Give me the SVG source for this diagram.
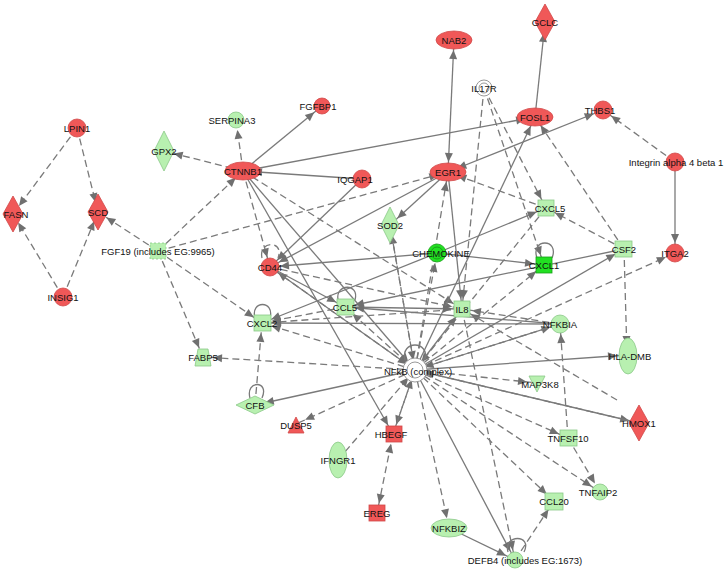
<svg xmlns="http://www.w3.org/2000/svg" width="724" height="572" viewBox="0 0 724 572">
<defs>
<marker id="a" markerUnits="userSpaceOnUse" markerWidth="30" markerHeight="10" viewBox="0 0 30 10" refX="19" refY="4" orient="auto-start-reverse" overflow="visible"><path d="M0,0 L9,4 L0,8 z" fill="#707070"/></marker>
<style>
.s{stroke:#7a7a7a;stroke-width:1.3;fill:none}
.d{stroke:#7a7a7a;stroke-width:1.3;fill:none;stroke-dasharray:7,4}
.r{fill:#f05858;stroke:#d04848;stroke-width:0.8}
.g{fill:#b8f0b0;stroke:#8ac888;stroke-width:0.8}
.G{fill:#22e022;stroke:#18a018;stroke-width:0.8}
.w{fill:#fff;stroke:#999;stroke-width:1}
text{font-family:"Liberation Sans",Arial,sans-serif;font-size:9.5px;fill:#111;text-anchor:middle;dominant-baseline:central}
</style>
</defs>
<rect width="724" height="572" fill="#fff"/>
<g id="connectors">
<g class="d" marker-end="url(#a)">
<line x1="77" y1="128" x2="13" y2="214"/><line x1="77" y1="128" x2="98" y2="212"/>
<line x1="63" y1="297" x2="13" y2="214"/><line x1="63" y1="297" x2="98" y2="212"/>
<line x1="158" y1="251" x2="98" y2="212"/><line x1="158" y1="251" x2="243" y2="171"/>
<line x1="158" y1="251" x2="448" y2="172"/><line x1="158" y1="251" x2="203" y2="357"/>
<line x1="158" y1="251" x2="262" y2="323"/>
<line x1="243" y1="171" x2="164" y2="151"/><line x1="243" y1="171" x2="236" y2="120"/>
<line x1="243" y1="171" x2="270" y2="267"/><line x1="243" y1="171" x2="462" y2="309"/>
<line x1="484" y1="88" x2="462" y2="309"/><line x1="484" y1="88" x2="546" y2="208"/><line x1="484" y1="88" x2="544" y2="265"/>
<line x1="546" y1="208" x2="448" y2="172"/><line x1="624" y1="249" x2="535" y2="117"/><line x1="624" y1="249" x2="546" y2="208"/>
<line x1="675" y1="162" x2="603" y2="110"/>
<line x1="415" y1="370" x2="437" y2="253"/><line x1="415" y1="370" x2="448" y2="172"/>
<line x1="415" y1="370" x2="390" y2="225"/>
<line x1="415" y1="370" x2="270" y2="267"/>
<line x1="415" y1="370" x2="262" y2="323"/><line x1="415" y1="370" x2="345" y2="307"/>
<line x1="415" y1="370" x2="203" y2="357"/><line x1="415" y1="370" x2="296" y2="424"/>
<line x1="415" y1="370" x2="393" y2="434"/><line x1="338" y1="460" x2="415" y2="370"/>
<line x1="415" y1="370" x2="449" y2="528"/><line x1="415" y1="370" x2="537" y2="383"/>
<line x1="415" y1="370" x2="568" y2="438"/><line x1="415" y1="370" x2="554" y2="501"/>
<line x1="415" y1="370" x2="600" y2="492"/><line x1="415" y1="370" x2="639" y2="423"/>
<line x1="415" y1="370" x2="544" y2="265"/><line x1="415" y1="370" x2="675" y2="253"/>
<line x1="415" y1="370" x2="560" y2="324"/>
<line x1="393" y1="434" x2="415" y2="370"/>
<line x1="255" y1="405" x2="262" y2="323"/>
<line x1="568" y1="438" x2="560" y2="324"/><line x1="568" y1="438" x2="600" y2="492"/>
<line x1="624" y1="249" x2="627" y2="355"/>
<line x1="462" y1="309" x2="515" y2="560"/><line x1="515" y1="560" x2="554" y2="501"/>
<line x1="345" y1="307" x2="262" y2="323"/><line x1="462" y1="309" x2="262" y2="323"/>
<line x1="560" y1="324" x2="462" y2="309"/><line x1="270" y1="267" x2="462" y2="309"/>
<line x1="546" y1="208" x2="415" y2="370"/><line x1="390" y1="225" x2="415" y2="370"/>
<line x1="617" y1="400" x2="462" y2="309"/>
</g>
<line class="d" x1="393" y1="434" x2="377" y2="513" marker-end="url(#a)" marker-start="url(#a)"/>
<g class="s" marker-end="url(#a)">
<line x1="243" y1="171" x2="322" y2="106"/><line x1="243" y1="171" x2="535" y2="117"/>
<line x1="362" y1="179" x2="243" y2="171"/><line x1="362" y1="179" x2="270" y2="267"/>
<line x1="243" y1="171" x2="393" y2="434"/><line x1="243" y1="171" x2="415" y2="370"/>
<line x1="535" y1="117" x2="545" y2="23"/><line x1="415" y1="370" x2="535" y2="117"/>
<line x1="675" y1="162" x2="675" y2="253"/>
<line x1="448" y1="172" x2="390" y2="225"/><line x1="448" y1="172" x2="270" y2="267"/>
<line x1="448" y1="172" x2="462" y2="309"/>
<line x1="437" y1="253" x2="546" y2="208"/><line x1="437" y1="253" x2="544" y2="265"/>
<line x1="437" y1="253" x2="270" y2="267"/><line x1="437" y1="253" x2="262" y2="323"/>
<line x1="270" y1="267" x2="415" y2="370"/><line x1="270" y1="267" x2="345" y2="307"/>
<line x1="415" y1="370" x2="462" y2="309"/><line x1="415" y1="370" x2="627" y2="355"/>
<line x1="415" y1="370" x2="255" y2="405"/><line x1="415" y1="370" x2="515" y2="560"/>
<line x1="415" y1="370" x2="624" y2="249"/><line x1="639" y1="423" x2="415" y2="370"/>
<line x1="345" y1="307" x2="462" y2="309"/><line x1="449" y1="528" x2="515" y2="560"/>
<line x1="560" y1="324" x2="262" y2="323"/><line x1="624" y1="249" x2="345" y2="307"/>
<line x1="560" y1="324" x2="345" y2="307"/><line x1="560" y1="324" x2="415" y2="370"/>
</g>
<line class="s" x1="454" y1="40" x2="448" y2="172" marker-end="url(#a)" marker-start="url(#a)"/>
<line class="s" x1="603" y1="110" x2="448" y2="172" marker-end="url(#a)" marker-start="url(#a)"/>
<g class="s">
<path d="M255,318 C250,300 275,300 270,318"/><path d="M338,300 C335,283 360,283 355,300"/>
<path d="M537,258 C530,238 560,238 552,258"/><path d="M405,360 C400,340 430,340 425,360"/>
<path d="M250,398 C245,380 270,380 262,398"/><path d="M508,552 C503,534 533,534 524,552"/>
</g>
<path class="d" d="M262,258 C258,240 285,240 278,258"/>
</g>
<g id="LPIN1"><circle class="r" cx="77" cy="128" r="9"/><text x="77" y="128">LPIN1</text></g>
<g id="FASN"><polygon class="r" points="13,196 23,214 13,232 3,214"/><text x="16" y="214">FASN</text></g>
<g id="SCD"><polygon class="r" points="98,194 108,212 98,230 88,212"/><text x="98" y="212">SCD</text></g>
<g id="INSIG1"><circle class="r" cx="63" cy="297" r="9"/><text x="63" y="297">INSIG1</text></g>
<g id="GPX2"><polygon class="g" points="164,131 174,151 164,171 154,151"/><text x="164" y="151">GPX2</text></g>
<g id="SERPINA3"><circle class="g" cx="236" cy="120" r="8"/><text x="232" y="120">SERPINA3</text></g>
<g id="FGFBP1"><circle class="r" cx="322" cy="106" r="8"/><text x="318" y="106">FGFBP1</text></g>
<g id="CTNNB1"><ellipse class="r" cx="243" cy="171" rx="18" ry="9"/><text x="243" y="171">CTNNB1</text></g>
<g id="IQGAP1"><circle class="r" cx="362" cy="179" r="9"/><text x="355" y="179">IQGAP1</text></g>
<g id="FGF19"><rect class="g" x="150" y="243" width="16" height="16" stroke-dasharray="2,2"/><text x="158" y="251">FGF19 (includes EG:9965)</text></g>
<g id="CD44"><circle class="r" cx="270" cy="267" r="9"/><text x="270" y="267">CD44</text></g>
<g id="NAB2"><ellipse class="r" cx="454" cy="40" rx="18" ry="9"/><text x="454" y="40">NAB2</text></g>
<g id="GCLC"><polygon class="r" points="545,4 555,22 545,40 535,22"/><text x="545" y="22">GCLC</text></g>
<g id="IL17R"><circle class="w" cx="484" cy="88" r="8"/><circle class="w" cx="484" cy="88" r="5"/><text x="484" y="88">IL17R</text></g>
<g id="FOSL1"><ellipse class="r" cx="535" cy="117" rx="18" ry="9"/><text x="535" y="117">FOSL1</text></g>
<g id="THBS1"><circle class="r" cx="603" cy="110" r="9"/><text x="600" y="110">THBS1</text></g>
<g id="Integrin"><circle class="r" cx="675" cy="162" r="9"/><text x="676" y="162">Integrin alpha 4 beta 1</text></g>
<g id="EGR1"><ellipse class="r" cx="448" cy="172" rx="18" ry="9"/><text x="448" y="172">EGR1</text></g>
<g id="SOD2"><polygon class="g" points="390,207 399,225 390,243 381,225"/><text x="390" y="225">SOD2</text></g>
<g id="CXCL5"><rect class="g" x="538" y="200" width="16" height="16"/><text x="550" y="208">CXCL5</text></g>
<g id="CHEMOKINE"><circle class="G" cx="437" cy="253" r="9"/><circle fill="none" stroke="#18a018" cx="437" cy="253" r="6"/><text x="441" y="253">CHEMOKINE</text></g>
<g id="CXCL1"><rect class="G" x="536" y="257" width="16" height="16"/><text x="544" y="265">CXCL1</text></g>
<g id="CSF2"><rect class="g" x="615" y="241" width="17" height="16"/><text x="624" y="249">CSF2</text></g>
<g id="ITGA2"><circle class="r" cx="675" cy="253" r="9"/><text x="675" y="253">ITGA2</text></g>
<g id="CCL5"><rect class="g" x="337" y="299" width="17" height="16"/><text x="345" y="307">CCL5</text></g>
<g id="CXCL2"><rect class="g" x="254" y="315" width="17" height="16"/><text x="262" y="323">CXCL2</text></g>
<g id="IL8"><rect class="g" x="454" y="301" width="16" height="16"/><text x="462" y="309">IL8</text></g>
<g id="NFKBIA"><circle class="g" cx="560" cy="324" r="9"/><text x="560" y="324">NFKBIA</text></g>
<g id="FABP5"><polygon class="g" points="198,349 208,349 211,366 195,366"/><text x="203" y="357">FABP5</text></g>
<g id="NFkB"><circle class="w" cx="415" cy="370" r="12"/><circle class="w" cx="415" cy="370" r="8"/><text x="418" y="371">NFkB (complex)</text></g>
<g id="HLA-DMB"><ellipse class="g" cx="628" cy="356" rx="9" ry="18"/><text x="630" y="356">HLA-DMB</text></g>
<g id="MAP3K8"><polygon class="g" points="529,376 545,376 537,392"/><text x="540" y="384">MAP3K8</text></g>
<g id="CFB"><polygon class="g" points="236,405 255,396 274,405 255,414"/><text x="255" y="405">CFB</text></g>
<g id="DUSP5"><polygon class="r" points="296,417 304,433 288,433"/><text x="296" y="425">DUSP5</text></g>
<g id="HBEGF"><rect class="r" x="386" y="426" width="16" height="16"/><text x="391" y="434">HBEGF</text></g>
<g id="IFNGR1"><ellipse class="g" cx="338" cy="460" rx="9" ry="18"/><text x="338" y="460">IFNGR1</text></g>
<g id="TNFSF10"><rect class="g" x="560" y="430" width="17" height="16"/><text x="568" y="438">TNFSF10</text></g>
<g id="HMOX1"><polygon class="r" points="639,405 649,423 639,441 629,423"/><text x="639" y="423">HMOX1</text></g>
<g id="EREG"><rect class="r" x="369" y="505" width="16" height="16"/><text x="377" y="513">EREG</text></g>
<g id="CCL20"><rect class="g" x="545" y="493" width="18" height="17"/><text x="554" y="501">CCL20</text></g>
<g id="TNFAIP2"><circle class="g" cx="600" cy="492" r="8"/><text x="598" y="492">TNFAIP2</text></g>
<g id="NFKBIZ"><ellipse class="g" cx="449" cy="528" rx="18" ry="9"/><text x="449" y="528">NFKBIZ</text></g>
<g id="DEFB4"><circle class="g" cx="515" cy="560" r="8"/><text x="525" y="560">DEFB4 (includes EG:1673)</text></g>
</svg>
